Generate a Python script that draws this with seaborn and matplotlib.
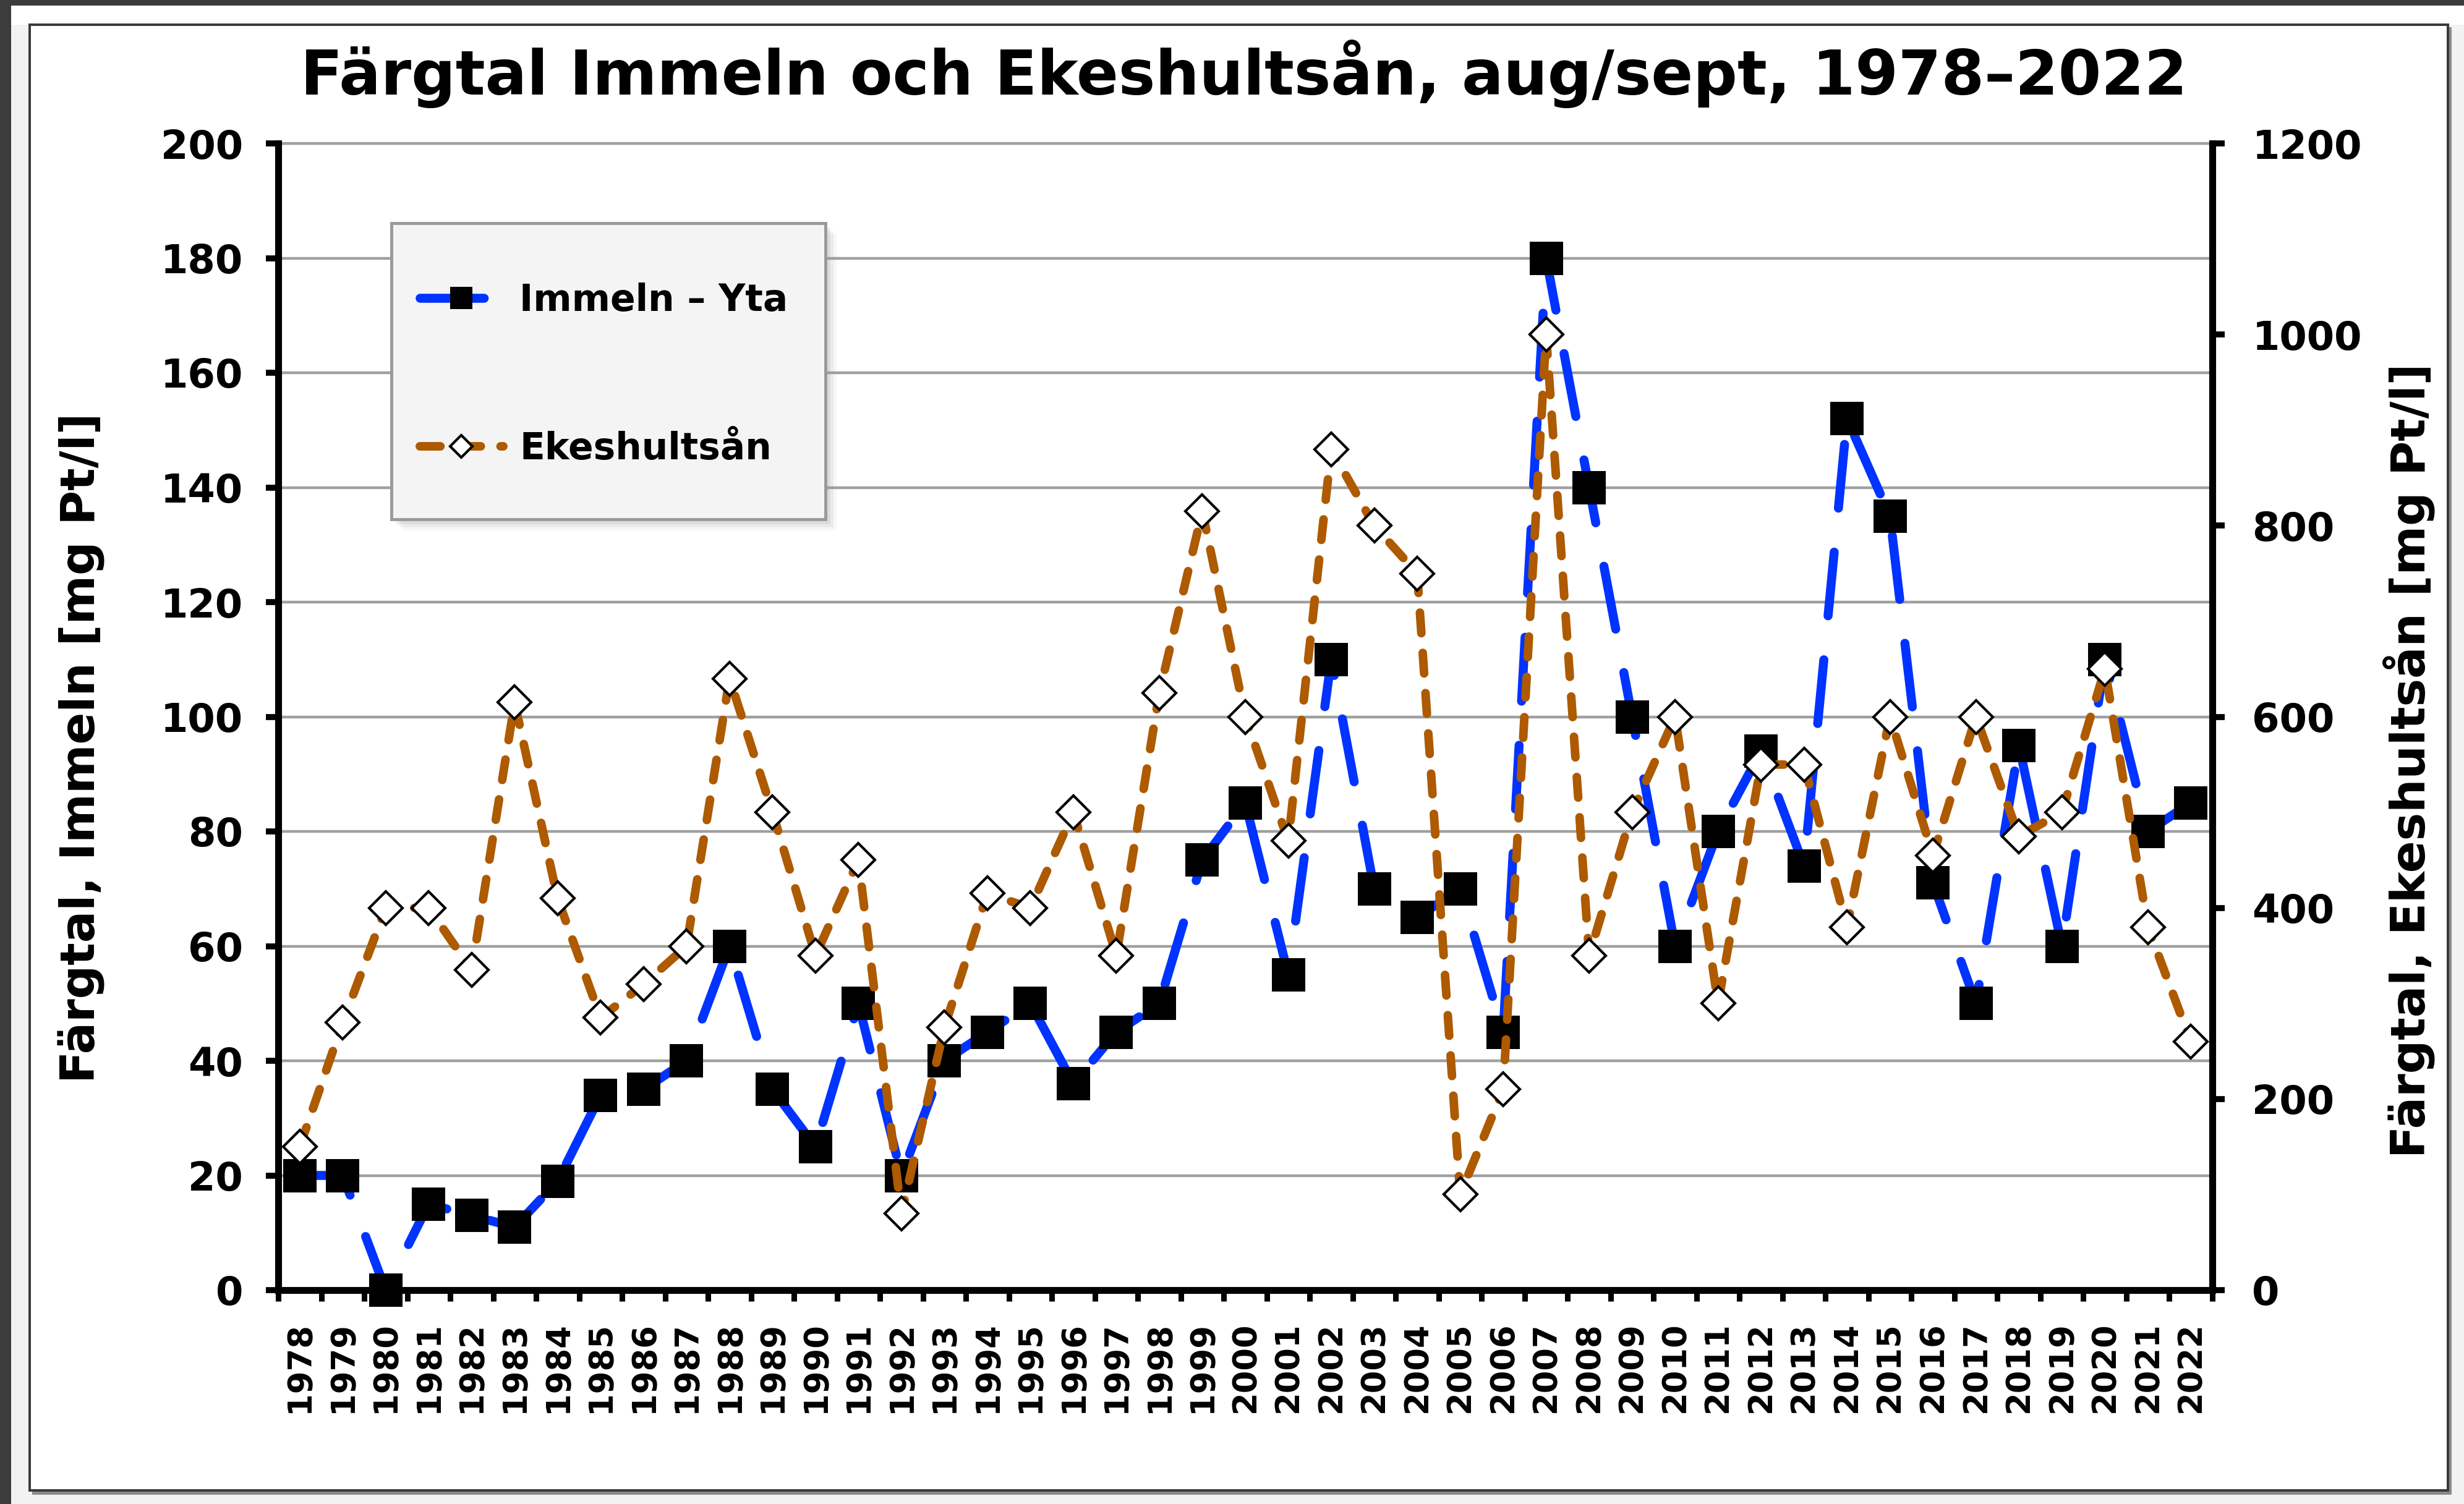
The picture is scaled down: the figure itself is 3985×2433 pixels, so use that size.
import numpy as np
import pandas as pd
import matplotlib
matplotlib.use('Agg')
import matplotlib.pyplot as plt
from matplotlib.patches import Rectangle
import seaborn as sns

# data
years = list(range(1978, 2023))
immeln = [20, 20, 0, 15, 13, 11, 19, 34, 35, 40,
          60, 35, 25, 50, 20, 40, 45, 50, 36, 45,
          50, 75, 85, 55, 110, 70, 65, 70, 45, 180,
          140, 100, 60, 80, 94, 74, 152, 135, 71, 50,
          95, 60, 110, 80, 85]
ekeshult = [150, 280, 400, 400, 335, 615, 410, 285, 320, 360,
            640, 500, 350, 450, 80, 275, 415, 400, 500, 350,
            625, 815, 600, 470, 880, 800, 750, 100, 210, 1000,
            350, 500, 600, 300, 550, 550, 380, 600, 455, 600,
            475, 500, 650, 380, 260]
labels = ['Immeln – Yta', 'Ekeshultsån']
title = 'Färgtal Immeln och Ekeshultsån, aug/sept, 1978–2022'

df = pd.DataFrame({'pos': np.arange(len(years)), 'year': years,
                   'immeln': immeln, 'ekeshult': ekeshult})

sns.set_theme(style='white')
plt.rcParams['font.family'] = ['DejaVu Sans']
plt.rcParams['font.weight'] = 'bold'
plt.rcParams['axes.labelweight'] = 'bold'
plt.rcParams['text.color'] = 'black'
plt.rcParams['axes.labelcolor'] = 'black'
plt.rcParams['xtick.color'] = 'black'
plt.rcParams['ytick.color'] = 'black'

W, H = 3985, 2433
PX = 72 / 100  # points per pixel at dpi 100
BLUE = '#0033FF'
ORANGE = '#AD5A00'

fig = plt.figure(figsize=(W / 100, H / 100), dpi=100)
fig.patch.set_facecolor('#f2f2f2')


def rect(x0, y0, x1, y1, **kw):
    r = Rectangle((x0 / W, 1 - y1 / H), (x1 - x0) / W, (y1 - y0) / H,
                  transform=fig.transFigure, **kw)
    fig.add_artist(r)
    return r


# screenshot framing
rect(0, 0, W, 9, fc='#3c3c3c', ec='none', zorder=-10)
rect(0, 0, 18, H, fc='#3c3c3c', ec='none', zorder=-10)
rect(18, 9, W, 40, fc='white', ec='none', zorder=-9)
rect(52, 44, 3965, 2418, fc='#8a8a8a', ec='none', zorder=-8)
rect(48, 40, 3959, 2411, fc='white', ec='#3a3a3a', lw=4 * PX, zorder=-7)

ax = fig.add_axes([450 / W, 1 - 2087 / H, (3578 - 450) / W, (2087 - 232) / H])
ax.set_facecolor('none')
ax2 = ax.twinx()

sns.lineplot(data=df, x='pos', y='immeln', ax=ax, estimator=None, errorbar=None,
             color=BLUE, marker='s', markersize=39, markerfacecolor='black',
             markeredgecolor='black', markeredgewidth=0,
             clip_on=False, zorder=3, label=labels[0], legend=False)
sns.lineplot(data=df, x='pos', y='ekeshult', ax=ax2, estimator=None, errorbar=None,
             color=ORANGE, marker='D', markersize=27, markerfacecolor='white',
             markeredgecolor='black', markeredgewidth=3,
             clip_on=False, zorder=3, label=labels[1], legend=False)

# line styles: long blue dashes, short orange dashes, round caps
blue_line = ax.lines[0]
blue_line.set_linewidth(10.5)
blue_line.set_linestyle((0, (7.1, 4.9)))
blue_line.set_dash_capstyle('round')
orange_line = ax2.lines[0]
orange_line.set_linewidth(10)
orange_line.set_linestyle((0, (2.4, 2.3)))
orange_line.set_dash_capstyle('round')

# axes limits and ticks
ax.set_xlim(-0.5, len(years) - 0.5)
ax.set_xticks(df['pos'])
ax.set_xticklabels([str(y) for y in years], rotation=90)
ax.set_xticks(np.arange(-0.5, len(years), 1), minor=True)
ax.tick_params(axis='x', which='major', length=0, pad=37, labelsize=38)
ax.tick_params(axis='x', which='minor', length=18 * PX, width=6.5,
               direction='out', color='black', bottom=True)
ax.set_ylim(0, 200)
ax.set_yticks(range(0, 201, 20))
ax.tick_params(axis='y', length=20 * PX, width=7, pad=26.5, labelsize=46,
               direction='out', color='black', left=True)
ax2.set_ylim(0, 1200)
ax2.set_yticks(range(0, 1201, 200))
ax2.tick_params(axis='y', length=20 * PX, width=7, pad=32, labelsize=46,
                direction='out', color='black', right=True)

ax.grid(axis='y', color='#a0a0a0', linewidth=3.2)
ax.grid(axis='x', visible=False)
ax.axhline(200, color='#a0a0a0', linewidth=3.2, clip_on=False, zorder=0.5)
ax.set_axisbelow(True)

for s in ['top', 'right']:
    ax.spines[s].set_visible(False)
for s in ['left', 'bottom']:
    ax.spines[s].set_linewidth(8)
    ax.spines[s].set_color('black')
for s in ['top', 'left', 'bottom']:
    ax2.spines[s].set_visible(False)
ax2.spines['right'].set_linewidth(8)
ax2.spines['right'].set_color('black')

ax.set_xlabel('')
ax.set_ylabel('Färgtal, Immeln [mg Pt/l]', fontsize=55, fontweight='bold', va='center')
ax.yaxis.set_label_coords(-0.1017, 0.4728)
ax2.set_xlabel('')
ax2.set_ylabel('Färgtal, Ekeshultsån [mg Pt/l]', fontsize=55, fontweight='bold',
               va='center', rotation=90)
ax2.yaxis.set_label_coords(1.1017, 0.462)

fig.text(2012 / W, 1 - 153 / H, title, ha='center', va='baseline',
         fontsize=72, fontweight='bold')

# legend box with soft shadow
for k, a in [(18, 0.08), (13, 0.12), (8, 0.18)]:
    rect(633 + k, 361 + k, 1335 + k, 840 + k, fc='#9a9a9a', ec='none', alpha=a, zorder=2)
rect(633, 361, 1335, 840, fc='#f4f4f4', ec='#999999', lw=3.5, zorder=3)

handles = [ax.lines[0], ax2.lines[0]]
leg = fig.legend(handles, labels, loc='upper left',
                 bbox_to_anchor=(679 / W, 1 - 457 / H), frameon=False,
                 borderpad=0, borderaxespad=0, handlelength=2.26,
                 handletextpad=0.44, labelspacing=3.03, markerscale=0.68,
                 prop={'size': 43, 'weight': 'bold'})
leg.set_zorder(5)

fig.savefig('out.png', dpi=100, facecolor=fig.get_facecolor())
